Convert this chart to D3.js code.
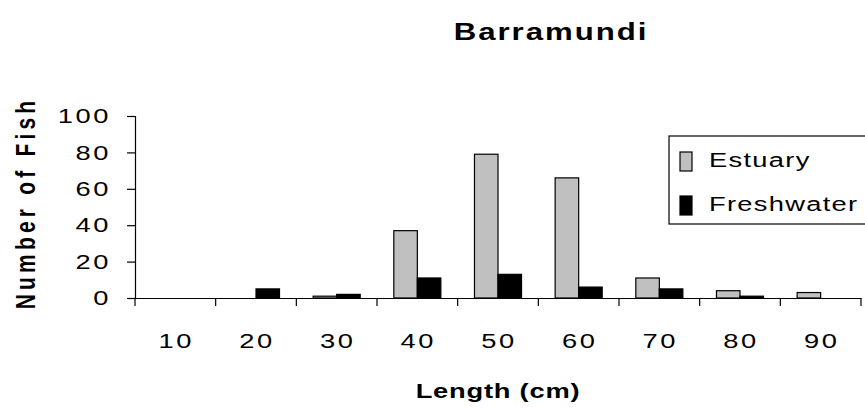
<!DOCTYPE html>
<html>
<head>
<meta charset="utf-8">
<script src="https://cdn.jsdelivr.net/npm/d3@7"></script>
<style>
  html, body { margin: 0; padding: 0; background: #fff; }
  svg { display: block; font-family: "Liberation Sans", Arial, sans-serif; }
</style>
</head>
<body>
<svg id="chart" width="865" height="408"></svg>
<script>
// Length classes (cm) and fish counts per habitat
const lengths = ["10", "20", "30", "40", "50", "60", "70", "80", "90"];
const seriesNames = ["Estuary", "Freshwater"];
const estuary = [0, 0, 1, 37, 79, 66, 11, 4, 3];
const freshwater = [0, 5, 2, 11, 13, 6, 5, 1, 0];
const yTicks = [0, 20, 40, 60, 80, 100];
const colors = { Estuary: "#c0c0c0", Freshwater: "#000000" };

// Text is drawn slightly widened, as in the original worksheet export
const SX = 1.3;

const svg = d3.select("#chart");
const plot = { left: 135, right: 861, top: 116, bottom: 298 };

const x = d3.scaleBand().domain(lengths).range([plot.left, plot.right]).paddingInner(0).paddingOuter(0);
const xs = d3.scaleBand().domain(seriesNames).range([0, x.bandwidth()]).paddingInner(0).paddingOuter(0.715);
const y = d3.scaleLinear().domain([0, 100]).range([plot.bottom, plot.top]);

const rows = lengths.map((c, i) => ({ cat: c, Estuary: estuary[i], Freshwater: freshwater[i] }));

// Bars
const groups = svg.append("g").selectAll("g").data(rows).join("g")
  .attr("transform", d => `translate(${x(d.cat)},0)`);
groups.selectAll("rect")
  .data(d => seriesNames.map(s => ({ s, v: d[s] })))
  .join("rect")
  .attr("x", d => xs(d.s))
  .attr("width", xs.bandwidth())
  .attr("y", d => y(d.v))
  .attr("height", d => y(0) - y(d.v))
  .attr("fill", d => colors[d.s])
  .attr("stroke", "#000")
  .attr("stroke-width", 1.2)
  .filter(d => d.v === 0).remove();

// Y axis
const yAxis = svg.append("g").attr("transform", `translate(${plot.left},0)`)
  .call(d3.axisLeft(y).tickValues(yTicks).tickSize(8));
yAxis.select(".domain").attr("stroke", "#000").attr("stroke-width", 1.2);
yAxis.selectAll(".tick line").attr("stroke", "#000").attr("stroke-width", 1.2);
yAxis.selectAll(".tick text")
  .attr("x", 0)
  .attr("transform", `translate(-24,0) scale(${SX},1)`)
  .attr("font-size", 21).attr("fill", "#000")
  .attr("font-family", "Liberation Sans, Arial, sans-serif")
  .style("letter-spacing", "2px");

// X axis: labels centred in bands, tick marks on band boundaries
const xAxis = svg.append("g").attr("transform", `translate(0,${plot.bottom})`)
  .call(d3.axisBottom(x).tickSize(0).tickSizeOuter(0));
xAxis.select(".domain").attr("stroke", "#000").attr("stroke-width", 1.2);
xAxis.selectAll(".tick text")
  .attr("y", 0).attr("dy", 0)
  .attr("transform", `translate(1,50) scale(${SX},1)`)
  .attr("font-size", 21).attr("fill", "#000")
  .attr("font-family", "Liberation Sans, Arial, sans-serif")
  .style("letter-spacing", "2px");
const bounds = lengths.map(c => x(c)).concat([x(lengths[lengths.length - 1]) + x.bandwidth()]);
xAxis.selectAll("line.bound").data(bounds).join("line")
  .attr("class", "bound")
  .attr("x1", d => d).attr("x2", d => d)
  .attr("y1", 0).attr("y2", 8)
  .attr("stroke", "#000").attr("stroke-width", 1.2);

// Titles
svg.append("text")
  .attr("transform", `translate(551,40) scale(${SX},1)`)
  .attr("text-anchor", "middle")
  .attr("font-size", 24).attr("font-weight", "bold")
  .style("letter-spacing", "1.5px")
  .text("Barramundi");

svg.append("text")
  .attr("transform", `translate(${(plot.left + plot.right) / 2},398) scale(${SX},1)`)
  .attr("text-anchor", "middle")
  .attr("font-size", 21).attr("font-weight", "bold")
  .style("letter-spacing", "0.6px")
  .text("Length (cm)");

svg.append("text")
  .attr("transform", `translate(35,${(plot.top + plot.bottom) / 2 - 4}) rotate(-90) scale(1,${SX})`)
  .attr("text-anchor", "middle")
  .attr("font-size", 21).attr("font-weight", "bold")
  .style("letter-spacing", "4.2px")
  .text("Number of Fish");

// Legend
const lg = svg.append("g").attr("transform", "translate(669,136)");
lg.append("rect")
  .attr("x", 0).attr("y", 0).attr("width", 210).attr("height", 88)
  .attr("fill", "#fff").attr("stroke", "#000").attr("stroke-width", 1.2);
const items = lg.selectAll("g.item").data(seriesNames).join("g")
  .attr("class", "item")
  .attr("transform", (d, i) => `translate(11,${16 + i * 44})`);
items.append("rect")
  .attr("x", 0).attr("y", 0).attr("width", 12).attr("height", 19)
  .attr("fill", d => colors[d]).attr("stroke", "#000").attr("stroke-width", 1.2);
items.append("text")
  .attr("transform", `translate(29,15) scale(${SX},1)`)
  .attr("font-size", 21).attr("fill", "#000")
  .style("letter-spacing", "1px")
  .text(d => d);
</script>
</body>
</html>
